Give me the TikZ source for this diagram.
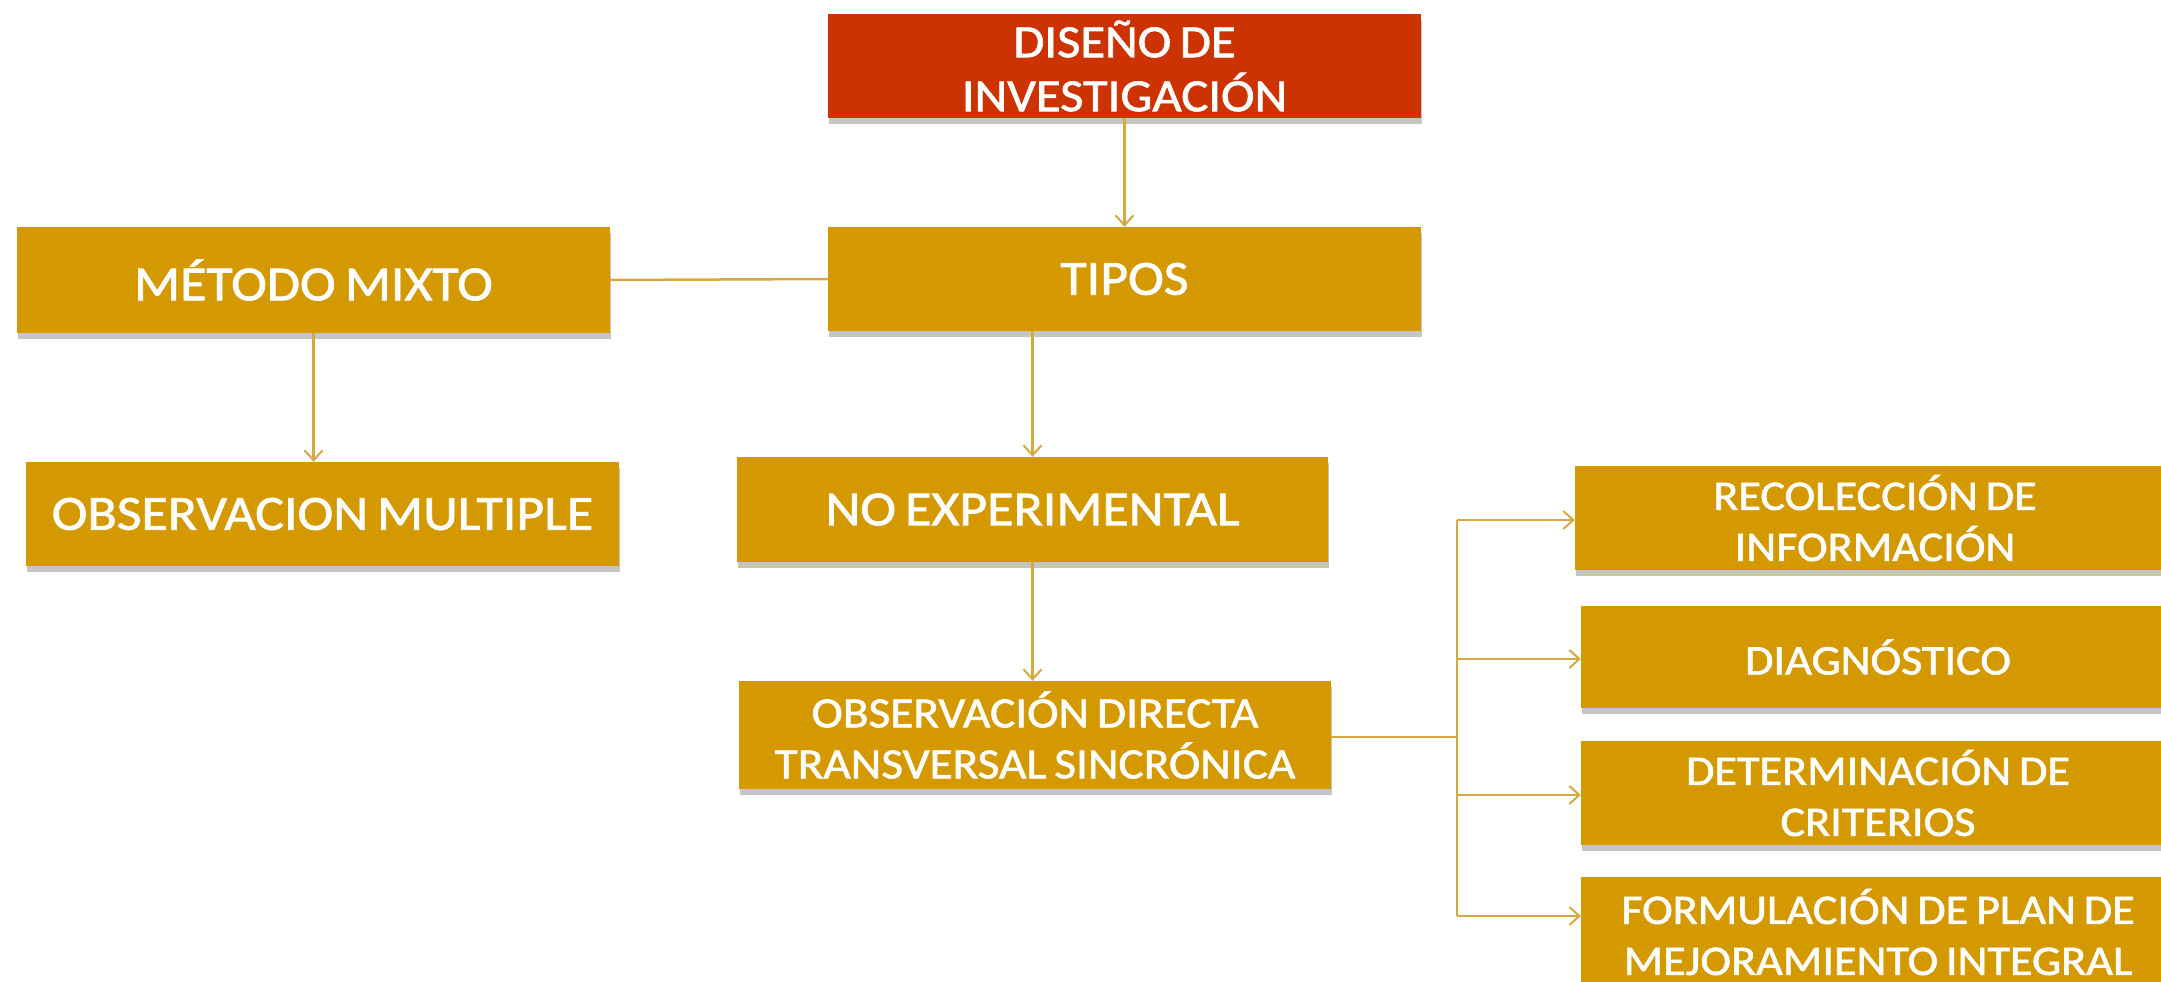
\documentclass[tikz,border=0pt]{standalone}
\usepackage{fontspec}
\setmainfont{Carlito}
\newfontfamily\bxfont[FakeStretch=1.1, WordSpace=0.4, FakeBold=1.5]{Carlito}
\newfontfamily\wsfont[FakeStretch=1.1, WordSpace=0.75, FakeBold=1.5]{Carlito}
\usetikzlibrary{arrows.meta,shadows}
\definecolor{gold}{RGB}{213,153,0}
\definecolor{redbox}{RGB}{204,51,0}
\definecolor{lnc}{RGB}{214,168,64}
\begin{document}
\begin{tikzpicture}[x=1pt,y=-1pt,
  box/.style={fill=gold, text=white, align=center, inner sep=0pt,
    font=\bxfont\fontsize{49}{52}\selectfont,
    drop shadow={shadow xshift=1pt, shadow yshift=-6pt, fill=black!50, opacity=0.45}},
  rbox/.style={box, font=\wsfont\fontsize{42}{51}\selectfont},
  ln/.style={draw=lnc, line width=2.5pt},
  arr/.style={ln, -{Straight Barb[length=10pt,width=18pt,line width=2pt]}}]
\useasboundingbox (0,0) rectangle (2161,982);
\fill[white] (0,0) rectangle (2161,982);
\clip (0,0) rectangle (2161,982);

\node[box, fill=redbox, font=\bxfont\fontsize{46}{54}\selectfont, minimum width=593pt, minimum height=104pt] (top) at (1124.5,66) {DISEÑO DE\\INVESTIGACIÓN};
\node[box, minimum width=593pt, minimum height=104pt] (tipos) at (1124.5,279) {TIPOS};
\node[box, minimum width=593pt, minimum height=106pt] (mixto) at (313.5,280) {MÉTODO MIXTO};
\node[box, minimum width=593pt, minimum height=104pt] (obsm) at (322.5,514) {OBSERVACION MULTIPLE};
\node[box, minimum width=591pt, minimum height=105pt] (noexp) at (1032.5,509.5) {NO EXPERIMENTAL};
\node[box, font=\wsfont\fontsize{43}{51}\selectfont, minimum width=592pt, minimum height=108pt] (obsd) at (1035,735) {OBSERVACIÓN DIRECTA\\TRANSVERSAL SINCRÓNICA};
\node[rbox, minimum width=600pt, minimum height=104pt] (r1) at (1875,518) {RECOLECCIÓN DE\\INFORMACIÓN};
\node[rbox, minimum width=594pt, minimum height=102pt] (r2) at (1878,657) {DIAGNÓSTICO};
\node[rbox, minimum width=594pt, minimum height=104pt] (r3) at (1878,793) {DETERMINACIÓN DE\\CRITERIOS};
\node[rbox, minimum width=594pt, minimum height=110pt] (r4) at (1878,932) {FORMULACIÓN DE PLAN DE\\MEJORAMIENTO INTEGRAL};

\draw[arr] (top.south) -- (tipos.north);
\draw[ln] (tipos.west) -- (mixto.east);
\draw[arr] (mixto.south) -- (mixto.south |- obsm.north);
\draw[arr] (noexp.north |- tipos.south) -- (noexp.north);
\draw[arr] (noexp.south) -- (noexp.south |- obsd.north);

\coordinate (j) at (1457,737);
\coordinate (b1) at (1457,520);
\coordinate (b2) at (1457,659);
\coordinate (b3) at (1457,795);
\coordinate (b4) at (1457,916);
\draw[ln] (obsd.east |- j) -- (j);
\draw[ln] (b1) -- (b4);
\draw[arr] (b1) -- (b1 -| r1.west);
\draw[arr] (b2) -- (b2 -| r2.west);
\draw[arr] (b3) -- (b3 -| r3.west);
\draw[arr] (b4) -- (b4 -| r4.west);
\end{tikzpicture}
\end{document}
